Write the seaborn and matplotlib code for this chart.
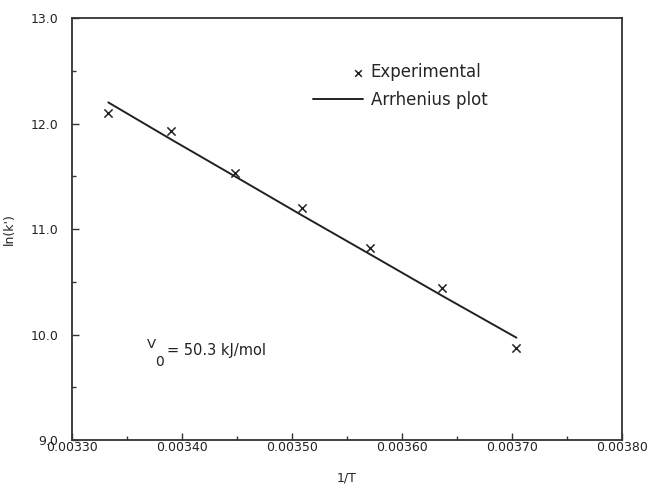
import pandas as pd
import matplotlib.pyplot as plt
import seaborn as sns
from matplotlib.ticker import MultipleLocator, FormatStrFormatter
from matplotlib.legend_handler import HandlerPathCollection

# =========================================
# DATA
# =========================================

inv_T = [0.003333, 0.003390, 0.003448, 0.003509, 0.003571, 0.003636, 0.003704]
ln_k = [12.10, 11.93, 11.53, 11.20, 10.82, 10.44, 9.87]
fit_ln_k = [12.20, 11.85, 11.50, 11.13, 10.76, 10.37, 9.97]

df = pd.DataFrame({"inv_T": inv_T, "ln_k": ln_k, "fit": fit_ln_k})


# marker drawn at the right end of the legend handle, like the original
class RightMarker(HandlerPathCollection):
    def get_xdata(self, legend, xdescent, ydescent, width, height, fontsize):
        x = -xdescent + width * 0.9
        return [x], [x]


# =========================================
# STYLE
# =========================================

sns.set_style("ticks")
plt.rcParams['font.family'] = ['DejaVu Sans']

fig = plt.figure(figsize=(6.51, 4.87), dpi=100)
ax = fig.add_axes([0.1106, 0.0965, 0.8449, 0.8665])

# =========================================
# PLOT
# =========================================

sns.lineplot(x="inv_T", y="fit", data=df, ax=ax, color="#222222",
             linewidth=1.4, label="Arrhenius plot")
sns.scatterplot(x="inv_T", y="ln_k", data=df, ax=ax, marker="x", s=35,
                color="#222222", linewidth=1.1, label="Experimental")

ax.set_xlim(0.00330, 0.00380)
ax.set_ylim(9.0, 13.0)

ax.xaxis.set_major_locator(MultipleLocator(0.0001))
ax.xaxis.set_minor_locator(MultipleLocator(0.00005))
ax.yaxis.set_major_locator(MultipleLocator(1.0))
ax.yaxis.set_minor_locator(MultipleLocator(0.5))
ax.xaxis.set_major_formatter(FormatStrFormatter('%.5f'))
ax.yaxis.set_major_formatter(FormatStrFormatter('%.1f'))

ax.tick_params(which='both', direction='in', colors='#333333', labelsize=9,
               labelcolor='#222222', width=1)
ax.tick_params(which='major', length=5)
ax.tick_params(which='minor', length=3)
ax.tick_params(axis='x', pad=1)
ax.tick_params(axis='y', pad=10)

for s in ax.spines.values():
    s.set_linewidth(1.3)
    s.set_color('#333333')

ax.set_xlabel("1/T", fontsize=9, color='#222222', labelpad=12)
ax.set_ylabel("ln(k')", fontsize=9, color='#222222', labelpad=10)

# legend: Experimental first, then line
handles, labels = ax.get_legend_handles_labels()
order = [labels.index("Experimental"), labels.index("Arrhenius plot")]
leg = ax.legend([handles[i] for i in order], [labels[i] for i in order],
                loc='upper left', bbox_to_anchor=(0.41, 0.928), frameon=False,
                fontsize=12, handlelength=3.0, handletextpad=0.5,
                labelspacing=0.55, markerscale=0.8,
                handler_map={type(handles[order[0]]): RightMarker()})

# activation energy annotation
ax.text(0.003368, 9.87, "V", fontsize=9.5, color='#222222')
ax.text(0.003376, 9.70, "0", fontsize=10, color='#222222')
ax.text(0.003386, 9.81, "= 50.3 kJ/mol", fontsize=10.5, color='#222222')

plt.savefig("out.png", dpi=100)
